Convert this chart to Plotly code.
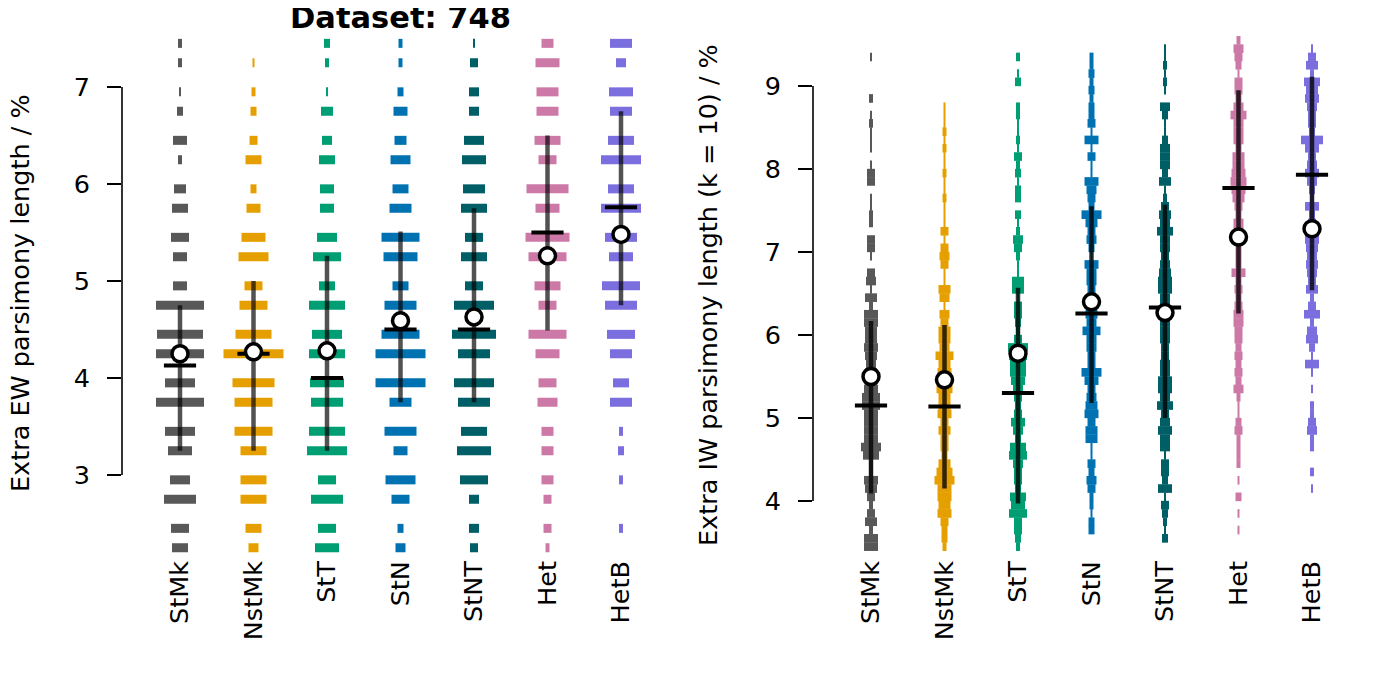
import plotly.graph_objects as go

# ---------------- data ----------------
categories = ["StMk", "NstMk", "StT", "StN", "StNT", "Het", "HetB"]
colors = ["#585858", "#E69F00", "#009E73", "#0072B2", "#005F66", "#CC79A7", "#7B6FDF"]

# Left panel (EW): discrete levels and counts per level
ew_levels = [2.25, 2.45, 2.75, 2.95, 3.25, 3.45, 3.75, 3.95, 4.25, 4.45, 4.75,
             4.95, 5.25, 5.45, 5.75, 5.95, 6.25, 6.45, 6.75, 6.95, 7.25, 7.45]
ew_StMk  = [8, 9, 16, 10, 12, 15, 24, 15, 24, 23, 24, 7, 7, 9, 8, 6, 2, 7, 3, 1, 2, 2]
ew_NstMk = [5, 8, 13, 13, 13, 19, 19, 21, 30, 18, 14, 9, 15, 12, 7, 3, 8, 4, 3, 2, 1, 0]
ew_StT   = [12, 9, 16, 9, 20, 18, 16, 17, 18, 15, 18, 8, 14, 10, 7, 7, 8, 5, 6, 1, 2, 3]
ew_StN   = [5, 3, 9, 15, 7, 16, 11, 25, 25, 19, 16, 8, 17, 19, 11, 8, 10, 6, 7, 3, 2, 2]
ew_StNT  = [4, 5, 5, 14, 17, 13, 16, 20, 16, 22, 20, 9, 13, 9, 13, 11, 12, 10, 5, 5, 4, 1]
ew_Het   = [2, 4, 4, 6, 6, 6, 10, 9, 12, 19, 9, 13, 19, 22, 12, 21, 9, 13, 11, 11, 12, 6]
ew_HetB  = [0, 2, 0, 2, 3, 2, 11, 8, 11, 14, 16, 19, 12, 16, 20, 13, 20, 13, 11, 12, 5, 11]
ew_counts = [ew_StMk, ew_NstMk, ew_StT, ew_StN, ew_StNT, ew_Het, ew_HetB]

ew_mean   = [4.25, 4.27, 4.28, 4.59, 4.63, 5.26, 5.48]
ew_median = [4.13, 4.25, 4.00, 4.50, 4.50, 5.50, 5.76]
ew_low    = [3.25, 3.25, 3.25, 3.75, 3.75, 4.49, 4.75]
ew_high   = [4.75, 5.00, 5.26, 5.51, 5.75, 6.50, 6.75]

# Right panel (IW, k = 10): bins of 0.1 (centres) and counts per bin
iw_bins = [3.45, 3.55, 3.65, 3.75, 3.85, 3.95, 4.05, 4.15, 4.25, 4.35,
           4.45, 4.55, 4.65, 4.75, 4.85, 4.95, 5.05, 5.15, 5.25, 5.35,
           5.45, 5.55, 5.65, 5.75, 5.85, 5.95, 6.05, 6.15, 6.25, 6.35,
           6.45, 6.55, 6.65, 6.75, 6.85, 6.95, 7.05, 7.15, 7.25, 7.35,
           7.45, 7.55, 7.65, 7.75, 7.85, 7.95, 8.05, 8.15, 8.25, 8.35,
           8.45, 8.55, 8.65, 8.75, 8.85, 8.95, 9.05, 9.15, 9.25, 9.35,
           9.45, 9.55]
iw_StMk  = [7, 7, 2, 6, 4, 2, 4, 6, 7, 2,   2, 8, 10, 7, 7, 7, 7, 9, 9, 7,
            6, 6, 5, 6, 7, 6, 6, 7, 7, 2,   6, 1, 5, 4, 0, 1, 4, 4, 0, 2,
            2, 1, 1, 0, 4, 4, 1, 0, 1, 1,   1, 2, 1, 0, 2, 0, 0, 0, 0, 1,  0, 0]
iw_NstMk = [2, 3, 3, 4, 7, 6, 7, 7, 10, 8,  6, 3, 4, 4, 6, 4, 7, 6, 6, 8,
            7, 7, 6, 9, 5, 6, 6, 4, 5, 1,   5, 6, 1, 1, 4, 5, 4, 1, 4, 1,
            1, 1, 2, 1, 1, 2, 1, 1, 2, 1,   2, 1, 1, 1, 0, 0, 0, 0, 0, 0,  0, 0]
iw_StT   = [2, 3, 4, 4, 9, 7, 8, 3, 4, 4,   5, 9, 8, 3, 5, 7, 4, 3, 4, 5,
            7, 8, 8, 9, 10, 4, 2, 3, 4, 4,  1, 6, 6, 1, 1, 2, 4, 5, 2, 1,
            3, 0, 3, 3, 1, 3, 2, 4, 1, 2,   1, 1, 2, 2, 0, 0, 3, 1, 0, 2,  0, 0]
iw_StN   = [0, 0, 3, 3, 1, 2, 2, 4, 5, 3,   4, 1, 1, 6, 6, 4, 7, 6, 5, 4,
            7, 10, 4, 4, 5, 5, 9, 5, 6, 5,  5, 4, 5, 5, 7, 1, 3, 5, 4, 6,
            10, 3, 4, 5, 7, 1, 1, 4, 1, 7,  1, 4, 3, 3, 2, 3, 2, 3, 2, 2,  0, 0]
iw_StNT  = [0, 3, 1, 2, 3, 4, 1, 7, 3, 4,   4, 1, 5, 5, 7, 5, 4, 8, 5, 7,
            7, 5, 5, 4, 4, 5, 5, 5, 5, 5,   5, 7, 7, 6, 5, 4, 5, 5, 8, 5,
            6, 4, 2, 1, 6, 3, 5, 5, 5, 3,   1, 1, 3, 5, 0, 1, 2, 1, 2, 1,  1, 0]
iw_Het   = [0, 0, 1, 0, 1, 0, 3, 0, 1, 0,   2, 2, 2, 2, 4, 3, 1, 1, 2, 5,
            3, 4, 3, 4, 3, 4, 4, 5, 5, 4,   3, 4, 3, 7, 3, 3, 3, 5, 5, 5,
            3, 4, 6, 7, 8, 7, 6, 6, 3, 5,   5, 5, 8, 5, 3, 4, 4, 1, 3, 4,  5, 2]
iw_HetB  = [0, 0, 0, 0, 0, 0, 0, 1, 0, 2,   0, 0, 2, 2, 5, 4, 2, 2, 0, 1,
            0, 1, 7, 1, 3, 6, 5, 2, 8, 4,   2, 6, 4, 5, 6, 5, 6, 7, 4, 4,
            3, 7, 2, 3, 5, 7, 5, 4, 7, 11,  3, 4, 4, 5, 7, 6, 8, 2, 6, 4,  1, 0]
iw_counts = [iw_StMk, iw_NstMk, iw_StT, iw_StN, iw_StNT, iw_Het, iw_HetB]

iw_mean   = [5.50, 5.46, 5.78, 6.40, 6.27, 7.18, 7.28]
iw_median = [5.15, 5.14, 5.30, 6.26, 6.33, 7.77, 7.93]
iw_low    = [4.09, 4.15, 3.97, 5.18, 5.00, 6.26, 6.54]
iw_high   = [6.17, 6.12, 6.57, 7.55, 7.57, 8.95, 9.11]

# ---------------- layout geometry ----------------
OFF = 8                       # page body margin of the html output
W, H = 1382 - OFF, 691 - OFF  # figure size so that it fills the window
PX_PER_CAT = 73.5
COUNT_W = 2.0 / PX_PER_CAT    # bar length per count, in category units
FONT = "DejaVu Sans"
FS = 25.5

def fx(px):   # window px -> figure px (x)
    return px - OFF

def fy(py):   # window py -> figure px (y, from top)
    return py - OFF

fig = go.Figure()

def add_panel(levels, counts, thickness, mean, median, low, high, xa, ya, line_col):
    for i, (cat, col, cnt) in enumerate(zip(categories, colors, counts)):
        ys = [lv for lv, c in zip(levels, cnt) if c > 0]
        ln = [c * COUNT_W for c in cnt if c > 0]
        bs = [i - l / 2 for l in ln]
        fig.add_trace(go.Bar(orientation="h", y=ys, x=ln, base=bs, width=thickness,
                             marker=dict(color=col, line=dict(width=0)),
                             xaxis=xa, yaxis=ya, showlegend=False, hoverinfo="skip"))
    lx, ly = [], []
    for i in range(len(categories)):
        lx += [i, i, None]
        ly += [low[i], high[i], None]
    fig.add_trace(go.Scatter(x=lx, y=ly, mode="lines", line=dict(color=line_col, width=4.5),
                             xaxis=xa, yaxis=ya, showlegend=False, hoverinfo="skip"))
    fig.add_trace(go.Scatter(x=list(range(len(categories))), y=median, mode="markers",
                             marker=dict(symbol="line-ew", size=23, line=dict(color="black", width=4)),
                             xaxis=xa, yaxis=ya, showlegend=False, hoverinfo="skip"))
    fig.add_trace(go.Scatter(x=list(range(len(categories))), y=mean, mode="markers",
                             marker=dict(symbol="circle", size=16, color="white",
                                         line=dict(color="black", width=3.5)),
                             xaxis=xa, yaxis=ya, showlegend=False, hoverinfo="skip"))

add_panel(ew_levels, ew_counts, 0.093, ew_mean, ew_median, ew_low, ew_high, "x", "y",
          "rgba(0,0,0,0.68)")
add_panel(iw_bins, iw_counts, 0.104, iw_mean, iw_median, iw_low, iw_high, "x2", "y2",
          "rgba(0,0,0,0.78)")

top_px, bot_px = 30, 555          # window pixels of the plot area
ydom = [1 - fy(bot_px) / H, 1 - fy(top_px) / H]

def xr(left_px, right_px, first_px):
    return [(left_px - first_px) / PX_PER_CAT, (right_px - first_px) / PX_PER_CAT]

x1_left, x1_right, x1_first = 122, 680, 180
x2_left, x2_right, x2_first = 813, 1370, 871

# left y: 7 at 87 px, 3 at 475 px
y1_ppu = (475 - 87) / 4
y1_range = [3 - (bot_px - 475) / y1_ppu, 7 + (87 - top_px) / y1_ppu]
# right y: 9 at 86 px, 4 at 501 px
y2_ppu = (501 - 86) / 5
y2_range = [4 - (bot_px - 501) / y2_ppu, 9 + (86 - top_px) / y2_ppu]

xcommon = dict(tickmode="array", tickvals=list(range(len(categories))), ticktext=categories,
               tickangle=-90, ticks="", showline=False, showgrid=False, zeroline=False,
               tickfont=dict(family=FONT, size=FS, color="black"), fixedrange=True)
ycommon = dict(ticks="outside", ticklen=14, tickwidth=1.6, tickcolor="black",
               showline=False, showgrid=False, zeroline=False,
               tickfont=dict(family=FONT, size=FS, color="black"), ticklabelstandoff=12)

fig.update_layout(
    width=W, height=H, margin=dict(l=0, r=0, t=0, b=0),
    paper_bgcolor="white", plot_bgcolor="white", barmode="overlay",
    font=dict(family=FONT, color="black"),
    xaxis=dict(domain=[fx(x1_left) / W, fx(x1_right) / W], range=xr(x1_left, x1_right, x1_first),
               anchor="y", **xcommon),
    yaxis=dict(domain=ydom, range=y1_range, anchor="x", tickvals=[3, 4, 5, 6, 7], **ycommon),
    xaxis2=dict(domain=[fx(x2_left) / W, fx(x2_right) / W], range=xr(x2_left, x2_right, x2_first),
                anchor="y2", **xcommon),
    yaxis2=dict(domain=ydom, range=y2_range, anchor="x2", tickvals=[4, 5, 6, 7, 8, 9], **ycommon),
    shapes=[
        dict(type="line", xref="x domain", yref="y", x0=0, x1=0, y0=3, y1=7,
             line=dict(color="black", width=1.6)),
        dict(type="line", xref="x2 domain", yref="y2", x0=0, x1=0, y0=4, y1=9,
             line=dict(color="black", width=1.6)),
    ],
    annotations=[
        dict(text="<b>Dataset: 748</b>", xref="paper", yref="paper", x=fx(400) / W,
             y=1 + 10 / H, xanchor="center", yanchor="top", showarrow=False,
             font=dict(family=FONT, size=30.5, color="black")),
        dict(text="Extra EW parsimony length / %", xref="paper", yref="paper",
             x=fx(20) / W, y=1 - fy(293) / H, textangle=-90, xanchor="center", yanchor="middle",
             showarrow=False, font=dict(family=FONT, size=FS, color="black")),
        dict(text="Extra IW parsimony length (k = 10) / %", xref="paper", yref="paper",
             x=fx(708) / W, y=1 - fy(295) / H, textangle=-90, xanchor="center", yanchor="middle",
             showarrow=False, font=dict(family=FONT, size=FS, color="black")),
    ],
)

fig.write_html("out.html")
